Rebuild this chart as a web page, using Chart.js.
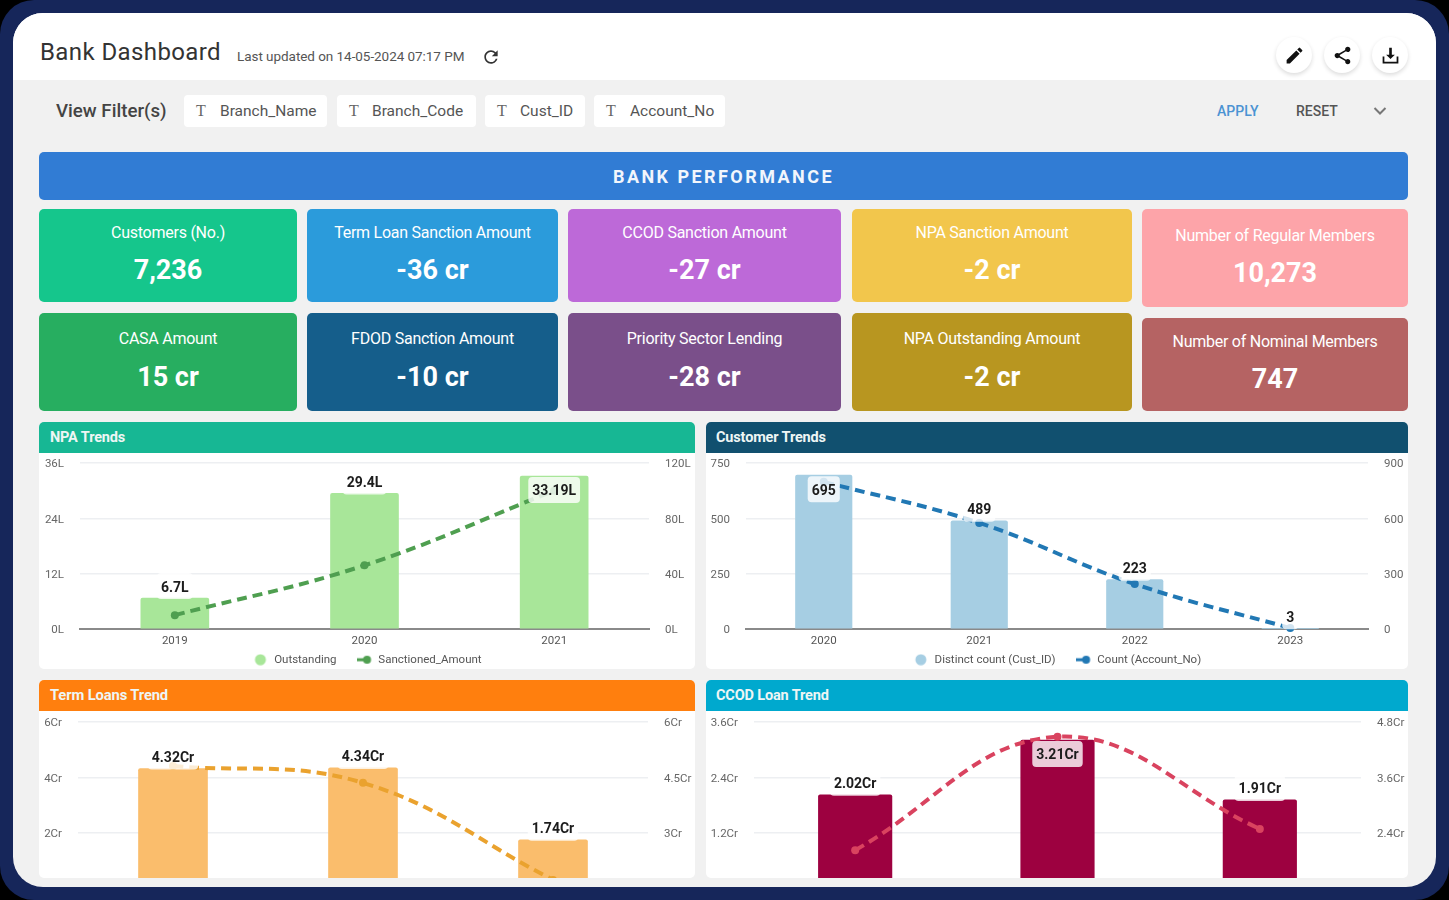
<!DOCTYPE html>
<html>
<head>
<meta charset="utf-8">
<title>Bank Dashboard</title>
<script src="https://cdn.jsdelivr.net/npm/chart.js@4"></script>
<style>
  html, body { margin: 0; padding: 0; background: #000; }
  body { width: 1449px; height: 900px; overflow: hidden; position: relative; font-family: Roboto, sans-serif; }
  .abs, .frame, .screen, .topbar, .banner, .card, .panel, .chip, .btn { position: absolute; }
  .frame { left: 0; top: 0; width: 1449px; height: 900px; background: #16265a; border-radius: 34px; }
  .screen { left: 13px; top: 13px; width: 1423px; height: 874px; background: #f1f1f1; border-radius: 30px; overflow: hidden; }
  .topbar { left: 0; top: 0; width: 1423px; height: 67px; background: #fff; }
  .title { left: 40px; top: 37px; font-size: 24px; color: #333; letter-spacing: .4px; line-height: 30px; white-space: nowrap; }
  .updated { left: 237px; top: 46.5px; font-size: 13.5px; color: #555; line-height: 18px; white-space: nowrap; letter-spacing: -.05px; }
  .btn { width: 36px; height: 36px; border-radius: 18px; background: #fff; box-shadow: 0 2px 4px rgba(0,0,0,.14); top: 37px; display: flex; align-items: center; justify-content: center; }
  .filters { left: 56px; top: 99px; font-size: 18.7px; font-weight: 500; color: #444; line-height: 24px; }
  .chip { top: 95px; height: 32px; background: #fff; border-radius: 4px; font-size: 15.5px; color: #555; line-height: 32px; white-space: nowrap; }
  .chip i { position: absolute; left: 12px; font-family: "Liberation Serif", serif; font-style: normal; font-size: 16px; color: #666; }
  .chip span { position: absolute; }
  .apply { left: 1217px; top: 102px; font-size: 14px; font-weight: 500; color: #4b93d3; line-height: 18px; }
  .reset { left: 1296px; top: 102px; font-size: 14px; font-weight: 500; color: #555; line-height: 18px; }
  .banner { left: 39px; top: 152px; width: 1369px; height: 48px; background: #317cd4; border-radius: 5px; color: #f2f6fc; font-size: 18px; font-weight: 700; letter-spacing: 2.45px; text-align: center; line-height: 49px; }
  .card { border-radius: 5px; color: #fff; text-align: center; }
  .card .lbl { position: absolute; left: 0; right: 0; font-size: 16px; line-height: 20px; letter-spacing: -.25px; }
  .card .val { position: absolute; left: 0; right: 0; font-size: 27px; font-weight: 700; line-height: 32px; }
  .panel { background: #fff; border-radius: 5px; overflow: hidden; }
  .panel .head { position: absolute; left: 0; top: 0; right: 0; height: 31px; color: #eef6f5; font-size: 14.5px; font-weight: 700; line-height: 31px; padding-left: 10px; letter-spacing: -.15px; }
  .panel canvas { position: absolute; left: 0; }
</style>
</head>
<body>
<div class="frame"></div>
<div class="screen"><div class="topbar"></div></div>

<div class="abs title">Bank Dashboard</div>
<div class="abs updated">Last updated on 14-05-2024 07:17 PM</div>
<svg class="abs" style="left:481px;top:47px" width="20" height="20" viewBox="0 0 24 24"><path fill="#333" d="M17.65 6.35A7.958 7.958 0 0 0 12 4c-4.42 0-7.99 3.58-7.99 8s3.57 8 7.99 8c3.73 0 6.84-2.55 7.73-6h-2.08A5.99 5.99 0 0 1 12 18c-3.31 0-6-2.69-6-6s2.69-6 6-6c1.66 0 3.14.69 4.22 1.78L13 11h7V4l-2.35 2.35z"/></svg>

<div class="btn" style="left:1276px"><svg width="21" height="21" viewBox="0 0 24 24"><path fill="#111" d="M3 17.25V21h3.75L17.81 9.94l-3.75-3.75L3 17.25zM20.71 7.04a1 1 0 0 0 0-1.41l-2.34-2.34a1 1 0 0 0-1.41 0l-1.83 1.83 3.75 3.75 1.83-1.83z"/></svg></div>
<div class="btn" style="left:1324px"><svg width="21" height="21" viewBox="0 0 24 24"><path fill="#111" d="M18 16.08c-.76 0-1.44.3-1.96.77L8.91 12.7c.05-.23.09-.46.09-.7s-.04-.47-.09-.7l7.05-4.11c.54.5 1.25.81 2.04.81 1.66 0 3-1.34 3-3s-1.34-3-3-3-3 1.34-3 3c0 .24.04.47.09.7L8.04 9.81C7.5 9.31 6.79 9 6 9c-1.66 0-3 1.34-3 3s1.34 3 3 3c.79 0 1.5-.31 2.04-.81l7.12 4.16c-.05.21-.08.43-.08.65 0 1.61 1.31 2.92 2.92 2.92s2.92-1.31 2.92-2.92-1.31-2.92-2.92-2.92z"/></svg></div>
<div class="btn" style="left:1372px"><svg width="21" height="21" viewBox="0 0 24 24"><path fill="#111" d="M19 13v6H5v-6H3v8h18v-8zM12 16l5-5h-3.5V3h-3v8H7z"/></svg></div>

<div class="abs filters">View Filter(s)</div>
<div class="chip" style="left:184px;width:143px"><i>T</i><span style="left:36px">Branch_Name</span></div>
<div class="chip" style="left:337px;width:139px"><i>T</i><span style="left:35px">Branch_Code</span></div>
<div class="chip" style="left:485px;width:100px"><i>T</i><span style="left:35px">Cust_ID</span></div>
<div class="chip" style="left:594px;width:131px"><i>T</i><span style="left:36px">Account_No</span></div>
<div class="abs apply">APPLY</div>
<div class="abs reset">RESET</div>
<svg class="abs" style="left:1372px;top:103px" width="16" height="16" viewBox="0 0 16 16"><path fill="none" stroke="#777" stroke-width="2" d="M2.5 5 8 10.5 13.5 5"/></svg>

<div class="banner">BANK PERFORMANCE</div>

<div class="card" style="left:39px;top:209px;width:258px;height:93px;background:#15c68c"><div class="lbl" style="top:14px">Customers (No.)</div><div class="val" style="top:45px">7,236</div></div>
<div class="card" style="left:307px;top:209px;width:251px;height:93px;background:#2b9bdb"><div class="lbl" style="top:14px">Term Loan Sanction Amount</div><div class="val" style="top:45px">-36 cr</div></div>
<div class="card" style="left:568px;top:209px;width:273px;height:93px;background:#bd69d8"><div class="lbl" style="top:14px">CCOD Sanction Amount</div><div class="val" style="top:45px">-27 cr</div></div>
<div class="card" style="left:852px;top:209px;width:280px;height:93px;background:#f2c64c"><div class="lbl" style="top:14px">NPA Sanction Amount</div><div class="val" style="top:45px">-2 cr</div></div>
<div class="card" style="left:1142px;top:209px;width:266px;height:98px;background:#fda4a9"><div class="lbl" style="top:17px">Number of Regular Members</div><div class="val" style="top:48px">10,273</div></div>
<div class="card" style="left:39px;top:313px;width:258px;height:98px;background:#27ae60"><div class="lbl" style="top:16px">CASA Amount</div><div class="val" style="top:48px">15 cr</div></div>
<div class="card" style="left:307px;top:313px;width:251px;height:98px;background:#155e8b"><div class="lbl" style="top:16px">FDOD Sanction Amount</div><div class="val" style="top:48px">-10 cr</div></div>
<div class="card" style="left:568px;top:313px;width:273px;height:98px;background:#7a4f8a"><div class="lbl" style="top:16px">Priority Sector Lending</div><div class="val" style="top:48px">-28 cr</div></div>
<div class="card" style="left:852px;top:313px;width:280px;height:98px;background:#b89620"><div class="lbl" style="top:16px">NPA Outstanding Amount</div><div class="val" style="top:48px">-2 cr</div></div>
<div class="card" style="left:1142px;top:318px;width:266px;height:93px;background:#b56363"><div class="lbl" style="top:14px">Number of Nominal Members</div><div class="val" style="top:45px">747</div></div>

<div class="panel" style="left:39px;top:422px;width:656px;height:247px"><div class="head" style="background:#17b794;padding-left:11px">NPA Trends</div><canvas id="npaChart" style="top:31px" width="656" height="250"></canvas></div>
<div class="panel" style="left:706px;top:422px;width:702px;height:247px"><div class="head" style="background:#11506f">Customer Trends</div><canvas id="customerChart" style="top:31px" width="702" height="250"></canvas></div>
<div class="panel" style="left:39px;top:680px;width:656px;height:198px"><div class="head" style="background:#ff7f0e;padding-left:11px;font-size:14.8px">Term Loans Trend</div><canvas id="termChart" style="top:31px" width="656" height="216"></canvas></div>
<div class="panel" style="left:706px;top:680px;width:702px;height:198px"><div class="head" style="background:#00a9ce">CCOD Loan Trend</div><canvas id="ccodChart" style="top:31px" width="702" height="216"></canvas></div>

<script>
// NPA Trends
const npaYears = ["2019", "2020", "2021"];
const npaOutstanding = [6.7, 29.4, 33.19];
const npaSanctioned = [10, 46, 100];
const npaLabels = ["6.7L", "29.4L", "33.19L"];
const npaLeftTicks = ["0L", "12L", "24L", "36L"];
const npaRightTicks = ["0L", "40L", "80L", "120L"];

// Customer Trends
const custYears = ["2020", "2021", "2022", "2023"];
const custDistinct = [695, 489, 223, 3];
const custAccounts = [798, 575, 244, 5];
const custLabels = ["695", "489", "223", "3"];
const custLeftTicks = ["0", "250", "500", "750"];
const custRightTicks = ["0", "300", "600", "900"];

// Term Loans Trend, the axis labels and legend are cut off in the picture
const termYears = ["", "", ""];
const termBars = [4.32, 4.34, 1.74];
const termLine = [4.81, 4.35, 1.72];
const termLabels = ["4.32Cr", "4.34Cr", "1.74Cr"];
const termLeftTicks = ["", "2Cr", "4Cr", "6Cr"];
const termRightTicks = ["", "3Cr", "4.5Cr", "6Cr"];

// CCOD Loan Trend
const ccodYears = ["", "", ""];
const ccodBars = [2.02, 3.21, 1.91];
const ccodLine = [2.02, 4.48, 2.48];
const ccodLabels = ["2.02Cr", "3.21Cr", "1.91Cr"];
const ccodLeftTicks = ["", "1.2Cr", "2.4Cr", "3.6Cr"];
const ccodRightTicks = ["", "2.4Cr", "3.6Cr", "4.8Cr"];

Chart.defaults.font.family = "Roboto, sans-serif";
Chart.defaults.animation = false;

// small picture for the legend, a dot or a dash with a dot
function legendIcon(color, withDash) {
  const c = document.createElement("canvas");
  c.width = 16;
  c.height = 12;
  const g = c.getContext("2d");
  g.fillStyle = color;
  if (withDash) {
    g.fillRect(0, 4.5, 9, 3);
    g.beginPath();
    g.arc(10.5, 6, 4, 0, Math.PI * 2);
  } else {
    g.beginPath();
    g.arc(8, 6, 5.5, 0, Math.PI * 2);
  }
  g.fill();
  return c;
}

// value labels on the bars, with the pale box behind them
const barValueLabels = {
  id: "barValueLabels",
  beforeDraw(chart) {
    // legend box is tall because of its item spacing, pull it up under the axis
    if (chart.legend && chart.legend.options.display) chart.legend.top = 181;
  },
  afterDatasetsDraw(chart, args, opts) {
    const g = chart.ctx;
    const meta = chart.getDatasetMeta(0);
    g.save();
    g.font = "bold 14px Roboto, sans-serif";
    g.textAlign = "center";
    g.textBaseline = "middle";
    meta.data.forEach((bar, i) => {
      const text = opts.texts[i];
      const inside = bar.y - 26 < chart.chartArea.top;
      const y = inside ? bar.y + 14 : bar.y - 12;
      const w = g.measureText(text).width + 8;
      g.fillStyle = "rgba(255,255,255,0.8)";
      g.beginPath();
      g.roundRect(bar.x - w / 2, y - 13, w, 26, 4);
      g.fill();
      g.fillStyle = "#1c1c1c";
      g.fillText(text, bar.x, y + 2);
    });
    g.restore();
  },
};

function noAxisPadding(scale) {
  scale.paddingTop = 0;
  scale.paddingBottom = 0;
  scale.paddingLeft = 0;
  scale.paddingRight = 0;
}

function comboChart(id, cfg) {
  const canvas = document.getElementById(id);
  const plotTop = cfg.plotTop;
  const plotHeight = 166;
  return new Chart(canvas, {
    data: {
      labels: cfg.labels,
      datasets: [
        {
          type: "bar",
          label: cfg.barName,
          data: cfg.bars,
          yAxisID: "y",
          backgroundColor: cfg.barColor,
          barThickness: cfg.barWidth,
          borderRadius: 2,
          borderSkipped: "bottom",
          order: 2,
        },
        {
          type: "line",
          label: cfg.lineName,
          data: cfg.line,
          yAxisID: "y1",
          borderColor: cfg.lineColor,
          backgroundColor: cfg.lineColor,
          borderWidth: 4,
          borderDash: [10, 6],
          pointRadius: 4,
          pointBackgroundColor: cfg.lineColor,
          pointBorderWidth: 0,
          tension: 0.4,
          clip: false,
          order: 1,
        },
      ],
    },
    plugins: [barValueLabels],
    options: {
      responsive: false,
      maintainAspectRatio: false,
      layout: { autoPadding: false, padding: { top: plotTop, left: 0, right: 0, bottom: 0 } },
      plugins: {
        tooltip: { enabled: false },
        barValueLabels: { texts: cfg.texts },
        legend: {
          display: !!cfg.showLegend,
          position: "bottom",
          labels: {
            usePointStyle: true,
            pointStyleWidth: 16,
            padding: 20,
            color: "#555",
            font: { size: 11.5 },
            generateLabels: () => [
              { text: cfg.barName, pointStyle: legendIcon(cfg.barColor, false), fontColor: "#555", lineWidth: 0, strokeStyle: "transparent", fillStyle: cfg.barColor },
              { text: cfg.lineName, pointStyle: legendIcon(cfg.lineColor, true), fontColor: "#555", lineWidth: 0, strokeStyle: "transparent", fillStyle: cfg.lineColor },
            ],
          },
        },
      },
      scales: {
        x: {
          grid: { display: false, drawTicks: false },
          border: { color: "#8a8a8a", width: 2 },
          ticks: { display: !!cfg.showLegend, color: "#555", font: { size: 11.5 }, padding: 5, autoSkip: false, maxRotation: 0 },
          afterFit(scale) {
            const legendH = scale.chart.legend && cfg.showLegend ? scale.chart.legend.height : 0;
            scale.height = canvas.height - plotTop - plotHeight - legendH;
            noAxisPadding(scale);
          },
        },
        y: {
          position: "left",
          min: cfg.leftRange[0],
          max: cfg.leftRange[1],
          grid: { color: "#edeff2", lineWidth: 1.5, drawTicks: false },
          border: { display: false },
          ticks: { count: 4, padding: 16, labelOffset: 1.5, color: "#666", font: { size: 11.5 }, callback: (v, i) => cfg.leftTicks[i] },
          afterFit(scale) {
            scale.width = cfg.leftWidth;
            noAxisPadding(scale);
          },
        },
        y1: {
          position: "right",
          min: cfg.rightRange[0],
          max: cfg.rightRange[1],
          grid: { display: false, drawTicks: false },
          border: { display: false },
          ticks: { count: 4, padding: 16, labelOffset: 1.5, color: "#666", font: { size: 11.5 }, callback: (v, i) => cfg.rightTicks[i] },
          afterFit(scale) {
            scale.width = cfg.rightWidth;
            noAxisPadding(scale);
          },
        },
      },
    },
  });
}

comboChart("npaChart", {
  labels: npaYears, bars: npaOutstanding, line: npaSanctioned, texts: npaLabels,
  barName: "Outstanding", lineName: "Sanctioned_Amount",
  barColor: "#a8e699", lineColor: "#4f9f50", barWidth: 68,
  leftRange: [0, 36], rightRange: [0, 120], leftTicks: npaLeftTicks, rightTicks: npaRightTicks,
  leftWidth: 41, rightWidth: 46, plotTop: 10, showLegend: true,
});

comboChart("customerChart", {
  labels: custYears, bars: custDistinct, line: custAccounts, texts: custLabels,
  barName: "Distinct count (Cust_ID)", lineName: "Count (Account_No)",
  barColor: "#a6cee3", lineColor: "#2178b4", barWidth: 56.5,
  leftRange: [0, 750], rightRange: [0, 900], leftTicks: custLeftTicks, rightTicks: custRightTicks,
  leftWidth: 40, rightWidth: 40, plotTop: 10, showLegend: true,
});

comboChart("termChart", {
  labels: termYears, bars: termBars, line: termLine, texts: termLabels,
  barName: "", lineName: "",
  barColor: "#fabd6c", lineColor: "#eaa22e", barWidth: 69,
  leftRange: [0, 6], rightRange: [1.5, 6], leftTicks: termLeftTicks, rightTicks: termRightTicks,
  leftWidth: 39, rightWidth: 47, plotTop: 11, showLegend: false,
});

comboChart("ccodChart", {
  labels: ccodYears, bars: ccodBars, line: ccodLine, texts: ccodLabels,
  barName: "", lineName: "",
  barColor: "#9d0140", lineColor: "#d9435f", barWidth: 73.5,
  leftRange: [0, 3.6], rightRange: [1.2, 4.8], leftTicks: ccodLeftTicks, rightTicks: ccodRightTicks,
  leftWidth: 48, rightWidth: 47, plotTop: 11, showLegend: false,
});
</script>
</body>
</html>
